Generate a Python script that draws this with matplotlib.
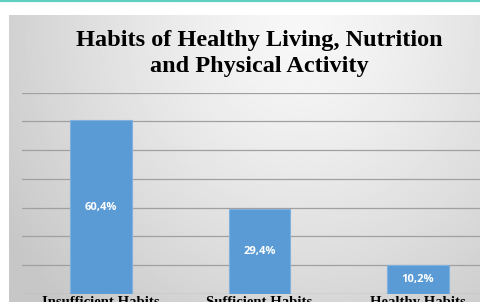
import numpy as np
import matplotlib
matplotlib.use("Agg")
import matplotlib.pyplot as plt

categories = ["Insufficient Habits", "Sufficient Habits", "Healthy Habits"]
values = [60.4, 29.4, 10.2]
labels = ["60,4%", "29,4%", "10,2%"]
title = "Habits of Healthy Living, Nutrition\nand Physical Activity"

W, H = 480, 302
fig = plt.figure(figsize=(W / 100, H / 100), dpi=100)
fig.patch.set_facecolor("white")

# teal rule at the very top
fig.add_artist(plt.Line2D([0, 1], [1 - 0.8 / H, 1 - 0.8 / H], color="#5fd0c0", lw=1.6))

# gray gradient panel
bg = fig.add_axes([9 / W, 0, (W - 9) / W, (H - 15) / H])
yy, xx = np.mgrid[0:1:200j, 0:1:300j]
d = np.sqrt(((xx - 0.62) / 0.75) ** 2 + ((yy - 0.05) / 1.3) ** 2)
shade = 0.97 - 0.19 * np.clip(d, 0, 1) ** 1.3
bg.imshow(shade, cmap="gray", vmin=0, vmax=1, aspect="auto", extent=[0, 1, 1, 0])
bg.axis("off")

ax = fig.add_axes([22 / W, 8 / H, (W - 22) / W, (294 - 92.7) / H])
ax.patch.set_alpha(0)
x = np.arange(len(categories))
ax.bar(x, values, width=0.39, color="#5b9bd5", edgecolor="#7fb0e0", linewidth=0.8, zorder=3)
ax.set_xlim(-0.5, 2.393)
ax.set_ylim(0, 70)
ax.set_yticks(np.arange(0, 71, 10))
ax.yaxis.grid(True, color="#a0a0a0", lw=0.9, zorder=1)
ax.tick_params(axis="y", left=False, labelleft=False)
ax.tick_params(axis="x", length=0, pad=1.5)
for s in ax.spines.values():
    s.set_visible(False)
ax.set_xticks(x)
ax.set_xticklabels(categories, fontfamily="Liberation Serif", fontweight="bold", fontsize=10.6)

for xi, v, lab in zip(x, values, labels):
    ax.text(xi, v / 2, lab, color="white", ha="center", va="center",
            fontfamily="Open Sans", fontweight="bold", fontsize=8, zorder=4)

fig.text(259 / W, 1 - 53.5 / H, title, ha="center", va="center", fontfamily="Liberation Serif",
         fontweight="bold", fontsize=17.5, linespacing=1.32)

fig.savefig("out.png", dpi=100)
